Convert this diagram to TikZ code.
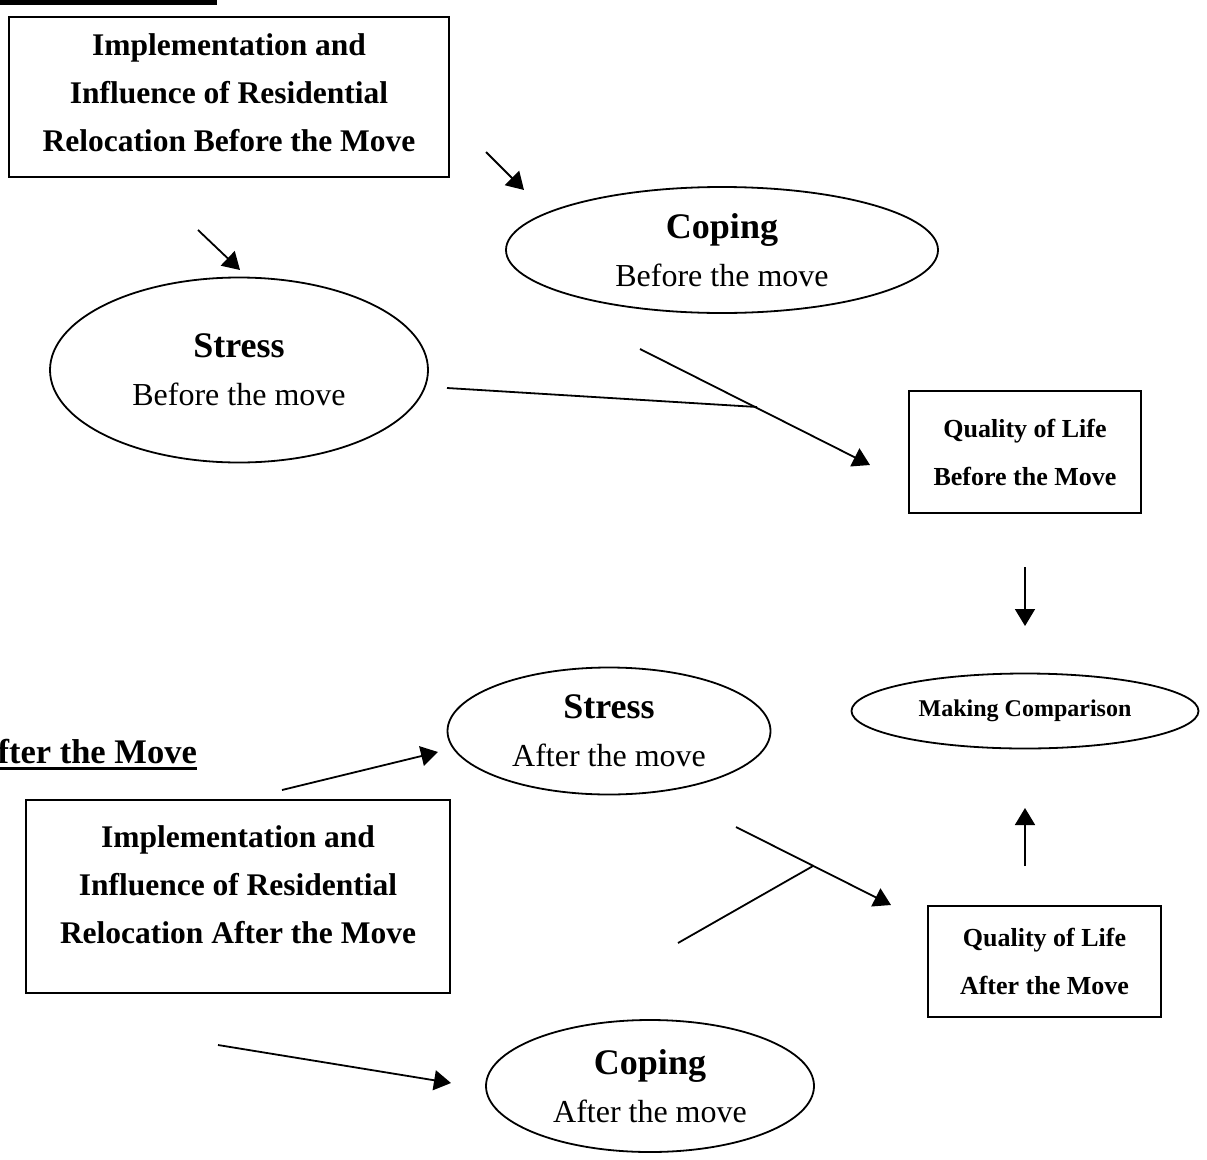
\documentclass[tikz,border=0pt]{standalone}
\usepackage{fontspec}
\setmainfont{Liberation Serif}
\usetikzlibrary{arrows.meta,shapes.geometric}
\tikzset{
  ln/.style={line width=1.8pt},
  arr/.style={ln,-{Triangle[length=17pt,width=20pt]}},
  boxframe/.style={draw,line width=1.8pt,inner sep=0pt},
  oval/.style={draw,ellipse,line width=1.8pt,inner sep=0pt,align=center,font=\fontsize{32}{48}\selectfont},
  boldtxt/.style={align=center,font=\fontsize{31.5}{48}\selectfont\bfseries},
  smalltxt/.style={align=center,font=\fontsize{26}{48}\selectfont\bfseries},
}
\newcommand{\hdtx}[1]{{\fontsize{36}{48}\selectfont\bfseries #1}}
\begin{document}
\begin{tikzpicture}[x=1pt,y=-1pt]
\useasboundingbox (0,0) rectangle (1207,1159);
% cut-off underline at top
\fill (0,0) rectangle (217,5);
% top box
\node[boxframe,minimum width=440pt,minimum height=160pt] (topbox) at (229,97) {};
\node[boldtxt] (toptxt) at (229,92.5) {Implementation and\\Influence of Residential\\Relocation Before the Move};
% coping before
\node[oval,minimum width=432pt,minimum height=126pt] (copb) at (722,250)
  {\hdtx{Coping}\\Before the move};
% stress before
\node[oval,minimum width=378pt,minimum height=185pt] (strb) at (239,370)
  {\hdtx{Stress}\\Before the move};
% QoL before
\node[boxframe,minimum width=232pt,minimum height=122pt,smalltxt] (qolb) at (1025,452)
  {Quality of Life\\Before the Move};
% making comparison
\node[oval,minimum width=347pt,minimum height=75pt,font=\fontsize{24}{28}\selectfont\bfseries] (comp) at (1025,711) {Making Comparison};
% section label
\node[anchor=base east,inner sep=0pt,font=\fontsize{34.5}{40}\selectfont\bfseries] (aftlbl) at (197,763) {fter the Move};
\fill (aftlbl.base west) ++(0,4) rectangle ([yshift=-7pt]aftlbl.base east);
% stress after
\node[oval,minimum width=323pt,minimum height=127pt] (stra) at (609,731)
  {\hdtx{Stress}\\After the move};
% bottom box
\node[boxframe,minimum width=424pt,minimum height=193pt] (botbox) at (238,896.5) {};
\node[boldtxt] (bottxt) at (238,884.5) {Implementation and\\Influence of Residential\\Relocation After the Move};
% QoL after
\node[boxframe,minimum width=233pt,minimum height=111pt,smalltxt] (qola) at (1044.5,961.5)
  {Quality of Life\\After the Move};
% coping after
\node[oval,minimum width=328pt,minimum height=132pt] (copa) at (650,1086)
  {\hdtx{Coping}\\After the move};
% connector end points
\coordinate (a1s) at (486,152); \coordinate (a1e) at (524,190);
\coordinate (a2s) at (198,230); \coordinate (a2e) at (240,270);
\coordinate (l1s) at (447,388); \coordinate (l1e) at (757,407);
\coordinate (a3s) at (640,349); \coordinate (a3e) at (870,465);
\coordinate (a4s) at (1025,567); \coordinate (a4e) at (1025,626);
\coordinate (a5s) at (1025,866); \coordinate (a5e) at (1025,808);
\coordinate (a6s) at (282,790); \coordinate (a6e) at (438,752);
\coordinate (a7s) at (736,827); \coordinate (a7e) at (891,905);
\coordinate (l2s) at (678,943); \coordinate (l2e) at (813,866);
\coordinate (a8s) at (218,1045); \coordinate (a8e) at (451,1083);
\draw[arr] (a1s) -- (a1e);
\draw[arr] (a2s) -- (a2e);
\draw[ln] (l1s) -- (l1e);
\draw[arr] (a3s) -- (a3e);
\draw[arr] (a4s) -- (a4e);
\draw[arr] (a5s) -- (a5e);
\draw[arr] (a6s) -- (a6e);
\draw[arr] (a7s) -- (a7e);
\draw[ln] (l2s) -- (l2e);
\draw[arr] (a8s) -- (a8e);
\end{tikzpicture}
\end{document}
